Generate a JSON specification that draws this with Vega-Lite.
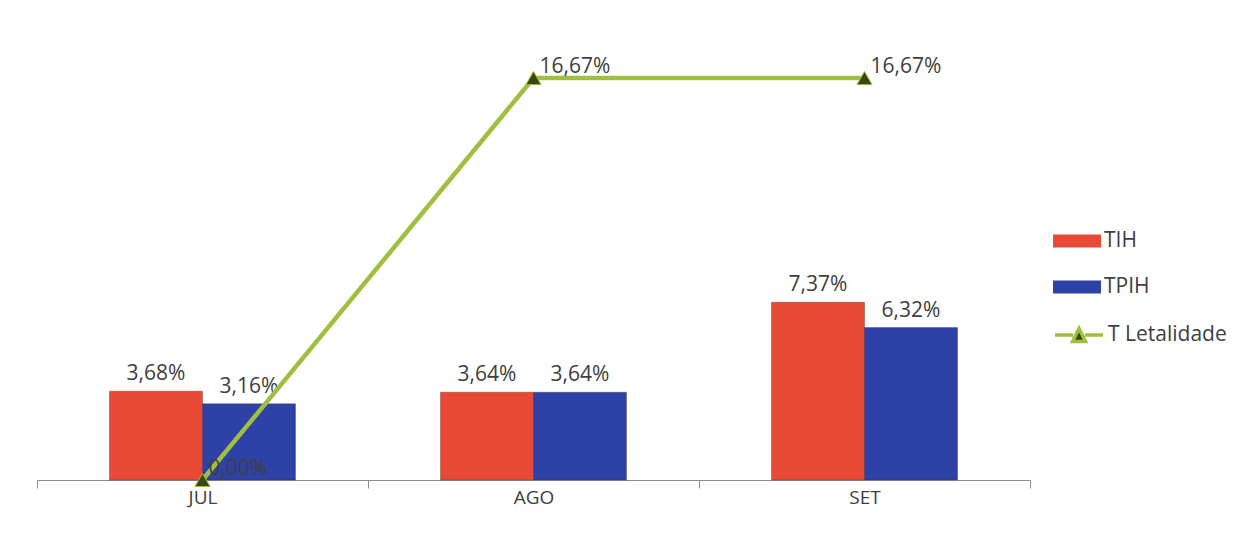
{
  "$schema": "https://vega.github.io/schema/vega-lite/v6.json",
  "width": 993,
  "height": 434,
  "autosize": "none",
  "padding": {"left": 37, "top": 46, "right": 225, "bottom": 75},
  "background": "white",
  "datasets": {
    "barras": [
      {"mes": "JUL", "serie": "TIH", "valor": 0.0368},
      {"mes": "JUL", "serie": "TPIH", "valor": 0.0316},
      {"mes": "AGO", "serie": "TIH", "valor": 0.0364},
      {"mes": "AGO", "serie": "TPIH", "valor": 0.0364},
      {"mes": "SET", "serie": "TIH", "valor": 0.0737},
      {"mes": "SET", "serie": "TPIH", "valor": 0.0632}
    ],
    "letalidade": [
      {"mes": "JUL", "serie": "T Letalidade", "valor": 0},
      {"mes": "AGO", "serie": "T Letalidade", "valor": 0.1667},
      {"mes": "SET", "serie": "T Letalidade", "valor": 0.1667}
    ]
  },
  "encoding": {
    "x": {
      "field": "mes",
      "type": "nominal",
      "sort": ["JUL", "AGO", "SET"],
      "scale": {"paddingInner": 0, "paddingOuter": 0},
      "axis": {
        "title": null,
        "labelAngle": 0,
        "tickBand": "extent",
        "tickSize": 8,
        "labelPadding": 0,
        "domainColor": "#8c8c8c",
        "tickColor": "#8c8c8c",
        "labelFont": "Open Sans",
        "labelFontSize": 19,
        "labelColor": "#404040"
      }
    },
    "y": {
      "field": "valor",
      "type": "quantitative",
      "scale": {"domain": [0, 0.18]},
      "axis": null
    }
  },
  "layer": [
    {
      "data": {"name": "barras"},
      "mark": {"type": "bar", "stroke": "#5a1f18", "strokeOpacity": 0.35, "strokeWidth": 1},
      "encoding": {
        "xOffset": {"field": "serie", "type": "nominal", "scale": {"paddingInner": 0, "paddingOuter": 0.78}},
        "fill": {
          "field": "serie",
          "type": "nominal",
          "scale": {"domain": ["TIH", "TPIH"], "range": ["#e84a36", "#2d41a6"]},
          "legend": {
            "title": null,
            "orient": "none",
            "legendX": 1016,
            "legendY": 171,
            "symbolType": "M-1,-0.27H1V0.27H-1Z",
            "symbolSize": 2300,
            "symbolStrokeWidth": 0,
            "rowPadding": 12,
            "labelOffset": 3,
            "labelFont": "Open Sans",
            "labelFontSize": 21,
            "labelColor": "#404040"
          }
        }
      }
    },
    {
      "data": {"name": "barras"},
      "mark": {"type": "text", "baseline": "bottom", "dy": -7, "font": "Open Sans", "fontSize": 21, "color": "#404040"},
      "encoding": {
        "xOffset": {"field": "serie", "type": "nominal", "scale": {"paddingInner": 0, "paddingOuter": 0.78}},
        "text": {"field": "valor", "type": "quantitative", "format": ".2%"}
      }
    },
    {
      "data": {"name": "letalidade"},
      "mark": {"type": "line", "strokeWidth": 4.5},
      "encoding": {
        "stroke": {
          "field": "serie",
          "type": "nominal",
          "scale": {"domain": ["T Letalidade"], "range": ["#9fc03e"]},
          "legend": {
            "title": null,
            "orient": "none",
            "legendX": 1016,
            "legendY": 263,
            "symbolType": "M-1,0H-0.25M0.25,0H1M-0.27,0.27L0,-0.27L0.27,0.27Z",
            "symbolSize": 2300,
            "symbolStrokeWidth": 3.5,
            "symbolFillColor": "#3b4712",
            "rowPadding": 0,
            "labelOffset": 3,
            "labelFont": "Open Sans",
            "labelFontSize": 21,
            "labelColor": "#404040"
          }
        }
      }
    },
    {
      "data": {"name": "letalidade"},
      "mark": {"type": "point", "shape": "triangle-up", "filled": true, "size": 230, "fill": "#3b4712", "stroke": "#9fc03e", "strokeWidth": 1, "opacity": 1}
    },
    {
      "data": {"name": "letalidade"},
      "mark": {"type": "text", "align": "left", "baseline": "middle", "dx": 6, "dy": -11, "font": "Open Sans", "fontSize": 21, "color": "#404040"},
      "encoding": {
        "text": {"field": "valor", "type": "quantitative", "format": ".2%"}
      }
    }
  ],
  "config": {
    "locale": {
      "number": {"decimal": ",", "thousands": ".", "grouping": [3], "currency": ["R$", ""]}
    },
    "view": {"stroke": null}
  }
}
